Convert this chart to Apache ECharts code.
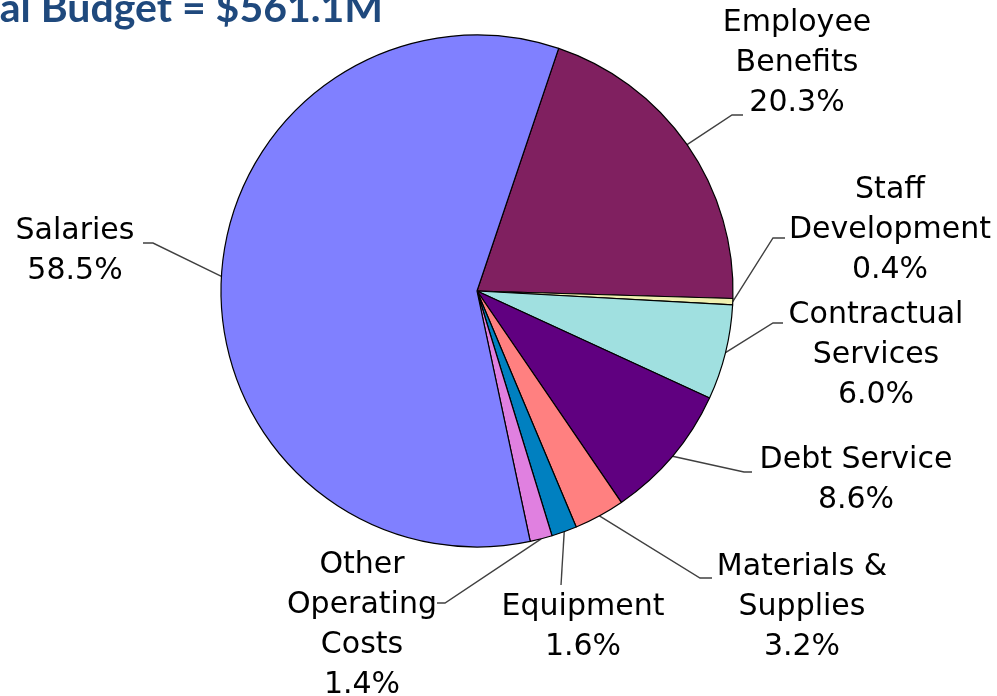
<!DOCTYPE html>
<html>
<head>
<meta charset="utf-8">
<script src="https://cdn.jsdelivr.net/npm/echarts@6/dist/echarts.min.js"></script>
<style>
  html, body { margin: 0; padding: 0; background: #fff; }
  #main { width: 997px; height: 696px; }
</style>
</head>
<body>
<div id="main"></div>
<script>
// budget shares in percent, clockwise from the top
var categories = ['Employee\nBenefits', 'Staff\nDevelopment', 'Contractual\nServices', 'Debt Service',
  'Materials &\nSupplies', 'Equipment', 'Other\nOperating\nCosts', 'Salaries']
var shares = [20.3, 0.4, 6.0, 8.6, 3.2, 1.6, 1.4, 58.5]
var titleText = 'Total Budget = $561.1M'

var sliceColors = ['#802060', '#F0F0B0', '#A0E0E0', '#600080', '#FF8080', '#0080C0', '#E080E0', '#8080FF']
// where each label sits (center of text block) and where its leader line ends
var labelCenters = [[797, 63], [890, 230], [876, 355], [856, 480], [802, 607], [583, 627], [362, 625], [75, 251]]
var leaderEnds = [[743, 115], [785, 238], [783, 323], [752, 472], [712, 578], [561, 585], [437, 603], [143, 243]]
var elbowLen = [11, 12, 10, 8, 12, 0, -8, -10]

var chart = echarts.init(document.getElementById('main'))

chart.setOption({
  animation: false,
  title: {
    text: titleText,
    right: 614,
    top: -12,
    padding: 0,
    textStyle: {
      fontFamily: 'Lato',
      fontWeight: 'bold',
      fontSize: 41,
      color: '#1F497D'
    }
  },
  series: [
    {
      type: 'pie',
      center: [477, 291],
      radius: 256,
      startAngle: 71.4,
      clockwise: true,
      avoidLabelOverlap: false,
      emphasis: { disabled: true },
      itemStyle: {
        borderColor: '#000',
        borderWidth: 1.2
      },
      label: {
        show: true,
        position: 'outside',
        fontFamily: 'DejaVu Sans',
        fontSize: 30,
        lineHeight: 40,
        color: '#000',
        align: 'center',
        formatter: function (p) {
          return p.name + '\n' + p.value.toFixed(1) + '%'
        }
      },
      labelLine: {
        show: true,
        lineStyle: { color: '#404040', width: 1.4 }
      },
      labelLayout: function (params) {
        var i = params.dataIndex
        var end = leaderEnds[i]
        var pts = params.labelLinePoints
        var start = pts ? pts[0] : end
        return {
          x: labelCenters[i][0],
          y: labelCenters[i][1],
          align: 'center',
          verticalAlign: 'middle',
          labelLinePoints: [start, [end[0] - elbowLen[i], end[1]], end]
        }
      },
      data: categories.map(function (name, i) {
        return { name: name, value: shares[i], itemStyle: { color: sliceColors[i] } }
      })
    }
  ]
})
</script>
</body>
</html>
